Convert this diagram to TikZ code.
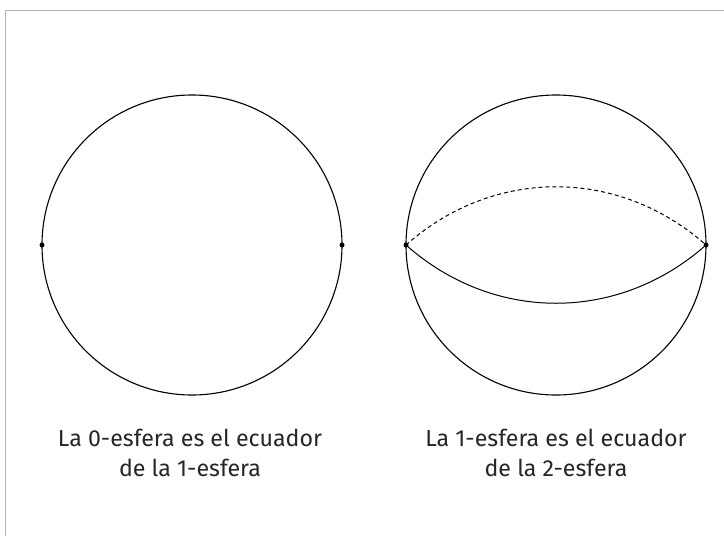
\documentclass[tikz,border=0pt]{standalone}
\usepackage{fontspec}
\setmainfont{Fira Sans}
\begin{document}
\begin{tikzpicture}[x=1pt,y=-1pt,
  sphere/.style={line width=1.1pt,black},
  eq/.style={line width=1pt,black},
  pt/.style={circle,fill=black,inner sep=0pt,minimum size=5pt},
  captext/.style={align=center,font=\fontsize{23.2}{29.5}\selectfont,text=black!85,anchor=north,inner sep=0pt}]
\useasboundingbox (0,0) rectangle (724,536);
\fill[white] (0,0) rectangle (724,536);
\draw[black!30,line width=1.2pt] (740,10.5) -- (5.5,10.5) -- (5.5,550);
% left circle
\coordinate (c1) at (192,245);
\draw[sphere] (c1) circle[radius=150];
\node[pt] (a1) at (42,245) {};
\node[pt] (b1) at (342,245) {};
% right circle
\coordinate (c2) at (556,245);
\draw[sphere] (c2) circle[radius=150];
\node[pt] (a2) at (406,245) {};
\node[pt] (b2) at (706,245) {};
\draw[eq] (a2.center) to[bend right=41.6] (b2.center);
\draw[eq,dashed,dash pattern=on 4pt off 3pt] (a2.center) to[bend left=41.6] (b2.center);
% captions
\node[captext] (t1) at (190,429) {La 0-esfera es el ecuador\\de la 1-esfera};
\node[captext] (t2) at (556,429) {La 1-esfera es el ecuador\\de la 2-esfera};
\end{tikzpicture}
\end{document}
